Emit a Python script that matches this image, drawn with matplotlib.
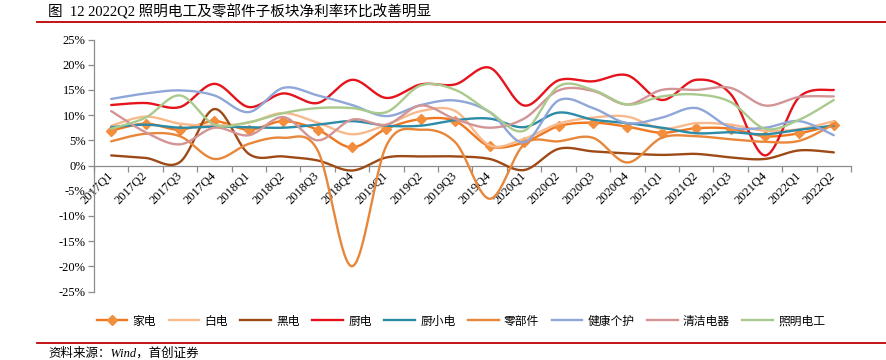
import numpy as np
import matplotlib
matplotlib.use('Agg')
import matplotlib.pyplot as plt
from matplotlib.lines import Line2D

quarters = ['2017Q1', '2017Q2', '2017Q3', '2017Q4', '2018Q1', '2018Q2', '2018Q3', '2018Q4',
            '2019Q1', '2019Q2', '2019Q3', '2019Q4', '2020Q1', '2020Q2', '2020Q3', '2020Q4',
            '2021Q1', '2021Q2', '2021Q3', '2021Q4', '2022Q1', '2022Q2']

jiadian = [6.9, 8.3, 7.1, 8.8, 7.1, 8.8, 7.1, 3.6, 7.3, 9.2, 8.8, 3.8, 4.6, 7.8, 8.5, 7.7, 6.5, 7.4, 7.3, 5.8, 6.4, 8.1]
baidian = [7.9, 9.7, 8.3, 7.9, 8.5, 10.4, 8.5, 6.2, 8.1, 10.8, 10.8, 4.0, 5.3, 8.3, 9.5, 9.7, 7.3, 8.4, 8.1, 6.9, 7.2, 8.8]
heidian = [2.0, 1.5, 0.7, 11.2, 2.3, 1.8, 1.0, -1.0, 1.6, 1.8, 1.8, 1.3, -0.9, 3.3, 2.8, 2.4, 2.1, 2.3, 1.6, 1.3, 3.0, 2.6]
chudian = [12.0, 12.4, 11.6, 16.2, 11.6, 14.3, 12.4, 17.0, 13.4, 16.1, 16.1, 19.4, 11.9, 16.9, 16.7, 17.9, 13.0, 17.0, 14.2, 2.0, 13.6, 15.0]
chuxiaodian = [7.6, 8.1, 7.5, 7.7, 7.6, 7.5, 8.1, 8.8, 7.9, 7.9, 9.0, 9.3, 7.6, 10.5, 9.1, 8.4, 7.5, 6.4, 6.6, 6.2, 7.1, 7.9]
lingbujian = [4.8, 6.3, 5.8, 1.3, 4.3, 5.5, 3.0, -20.0, 4.0, 7.1, 4.6, -6.6, 4.2, 4.8, 5.5, 0.6, 5.5, 5.8, 5.2, 4.7, 4.9, 8.2]
jiankang = [13.2, 14.3, 14.9, 13.9, 10.6, 15.4, 13.9, 12.0, 9.8, 12.0, 12.9, 10.6, 4.6, 12.9, 11.4, 8.4, 9.5, 11.4, 7.6, 7.5, 8.8, 6.0]
qingjie = [10.8, 6.6, 4.2, 7.5, 6.0, 9.6, 5.0, 9.1, 8.1, 11.9, 9.2, 7.5, 9.3, 14.9, 14.8, 12.1, 15.0, 15.0, 15.4, 11.9, 13.6, 13.7]
zhaoming = [7.3, 9.5, 13.9, 8.1, 8.6, 10.4, 11.4, 11.4, 10.6, 15.9, 15.0, 10.6, 6.9, 15.7, 15.0, 12.1, 13.7, 14.1, 12.6, 7.3, 9.1, 13.0]

names = ['家电', '白电', '黑电', '厨电', '厨小电', '零部件', '健康个护', '清洁电器', '照明电工']
series = [jiadian, baidian, heidian, chudian, chuxiaodian, lingbujian, jiankang, qingjie, zhaoming]
colors = ['#EF7720', '#F8B98C', '#9E4A17', '#E5131B', '#2C8BA6', '#E8873A', '#8EA6D8', '#D39495', '#A9CA8C']

CJK = ['Liberation Serif', 'Noto Sans CJK SC', 'DejaVu Sans']
plt.rcParams['font.family'] = CJK


def smooth(y, n=24):
    x = np.arange(len(y), dtype=float)
    y = np.asarray(y, dtype=float)
    P = np.column_stack([x, y])
    N = len(P)
    out = []
    t = np.linspace(0, 1, n)[:, None]
    for i in range(N - 1):
        P0 = P[max(i - 1, 0)]
        P1 = P[i]
        P2 = P[i + 1]
        P3 = P[min(i + 2, N - 1)]
        C1 = P1 + (P2 - P0) / 6.0
        C2 = P2 - (P3 - P1) / 6.0
        B = (1 - t) ** 3 * P1 + 3 * (1 - t) ** 2 * t * C1 + 3 * (1 - t) * t ** 2 * C2 + t ** 3 * P2
        out.append(B if i == 0 else B[1:])
    B = np.vstack(out)
    return B[:, 0], B[:, 1]


W, H = 887, 360
fig = plt.figure(figsize=(W / 100, H / 100), dpi=100)
left, right = 94, 851
top, bottom = 39.5, 291.5
ax = fig.add_axes([left / W, 1 - bottom / H, (right - left) / W, (bottom - top) / H])

for name, vals, c in zip(names, series, colors):
    sx, sy = smooth(vals)
    ax.plot(sx, sy, color=c, lw=1.7, solid_capstyle='round', zorder=3)
    if name == '家电':
        ax.plot(np.arange(len(vals)), vals, ls='none', marker='D', ms=5.5,
                mfc='#F28E3C', mec='#F28E3C', zorder=3)

ax.set_xlim(-0.5, len(quarters) - 0.5)
ax.set_ylim(-25, 25)
yt = np.arange(-25, 26, 5)
ax.set_yticks(yt)
ax.set_yticklabels([f'{v}%' for v in yt], fontsize=9, family='Liberation Serif')

ax.spines['top'].set_visible(False)
ax.spines['right'].set_visible(False)
ax.spines['bottom'].set_position(('data', 0))
for s in ['left', 'bottom']:
    ax.spines[s].set_color('#8C8C8C')
    ax.spines[s].set_linewidth(0.9)

ax.set_xticks(np.arange(-0.5, len(quarters), 1))
ax.set_xticklabels([])
ax.tick_params(axis='x', which='major', direction='out', length=4, color='#8C8C8C', width=0.9)
ax.set_xticks(np.arange(len(quarters)), minor=True)
ax.set_xticklabels(quarters, minor=True, rotation=45, ha='right', va='center',
                   rotation_mode='anchor', fontsize=9, family='Liberation Serif')
ax.tick_params(axis='x', which='minor', length=0, pad=6)
ax.tick_params(axis='y', direction='out', length=4, color='#8C8C8C', width=0.9, pad=2)

handles = []
for name, c in zip(names, colors):
    if name == '家电':
        h = Line2D([], [], color=c, lw=1.7, marker='D', ms=5, mfc='#F28E3C', mec='#F28E3C')
    else:
        h = Line2D([], [], color=c, lw=1.7)
    handles.append(h)
fig.legend(handles, names, loc='center', bbox_to_anchor=(461 / W, 1 - 321 / H), ncol=9,
           frameon=False, handlelength=2.6, handletextpad=0.45,
           columnspacing=1.05, prop={'family': ['Noto Sans CJK SC', 'DejaVu Sans'], 'size': 8.5})

fig.text(48 / W, 1 - 12 / H, '图  12 2022Q2 照明电工及零部件子板块净利率环比改善明显',
         fontsize=10.5, ha='left', va='center', family=CJK)
fig.add_artist(Line2D([37 / W, 1.0], [1 - 22 / H, 1 - 22 / H], transform=fig.transFigure,
                      color='#C00000', lw=1.3))
fig.add_artist(Line2D([37 / W, 1.0], [1 - 343 / H, 1 - 343 / H], transform=fig.transFigure,
                      color='#C00000', lw=1.3))
fig.text(48 / W, 1 - 353.5 / H, '资料来源：Wind，首创证券', fontsize=9, ha='left', va='center',
         family=CJK, style='italic')

fig.savefig('out.png', dpi=100)
